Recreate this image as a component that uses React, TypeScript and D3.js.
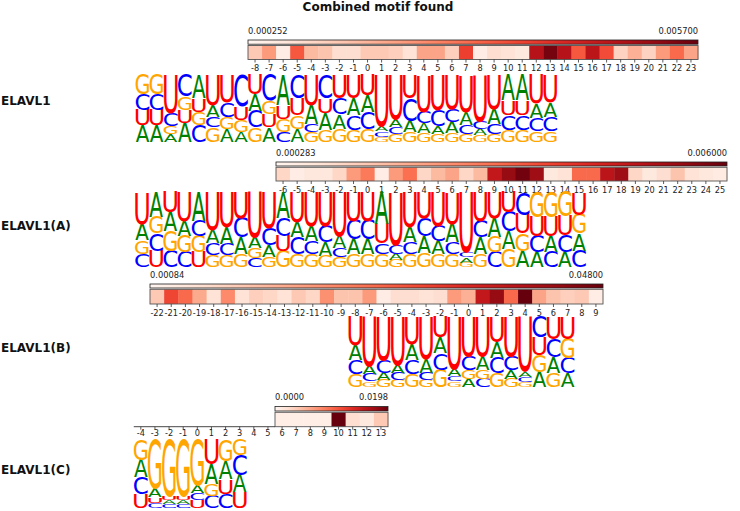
import * as d3 from 'd3';

const TITLE = 'Combined motif found';

const motifNames = ['ELAVL1', 'ELAVL1(A)', 'ELAVL1(B)', 'ELAVL1(C)'];
const colorbarMin = ['0.000252', '0.000283', '0.00084', '0.0000'];
const colorbarMax = ['0.005700', '0.006000', '0.04800', '0.0198'];

// positions covered by the heatmap, the axis ticks and the logo
const heatFirst = [-8, -6, -22, 6];
const heatLast = [23, 25, 9, 13];
const tickFirst = [-8, -6, -22, -4];
const logoFirst = [-16, -16, -8, -4];

// heatmap intensity (fraction of the colorbar range)
const heat1 = [0.2, 0.35, 0.05, 0.55, 0.25, 0.22, 0.12, 0.12, 0.2, 0.2, 0.18, 0.1, 0.32, 0.32, 0.18, 0.62,
  0.05, 0.12, 0.1, 0.07, 0.82, 0.97, 0.82, 0.55, 0.8, 0.58, 0.17, 0.28, 0.17, 0.35, 0.5, 0.32];
const heat2 = [0.15, 0.05, 0.08, 0.08, 0.15, 0.35, 0.45, 0.05, 0.35, 0.48, 0.15, 0.25, 0.32, 0.15, 0.25, 0.78,
  0.9, 0.98, 0.88, 0.07, 0.1, 0.5, 0.5, 0.8, 0.88, 0.15, 0.07, 0.12, 0.22, 0.1, 0.08, 0.06];
const heat3 = [0.2, 0.6, 0.5, 0.3, 0.1, 0.4, 0.1, 0.18, 0.15, 0.1, 0.2, 0.15, 0.38, 0.22, 0.22, 0.35,
  0.05, 0.12, 0.12, 0.1, 0.12, 0.35, 0.28, 0.78, 0.9, 0.5, 1.0, 0.32, 0.22, 0.18, 0.2, 0.05];
const heat4 = [0.04, 0.04, 0.04, 0.04, 1.0, 0.12, 0.07, 0.2];

// logo columns, letters stacked bottom -> top with probability in %
const logo1 = [
  'A25 U23 C24 G28', 'A25 U23 C24 G28', 'A12 G12 C20 U56', 'A28 U20 G20 C32', 'C25 G20 U20 A35',
  'G22 C16 A17 U45', 'A20 G18 C22 U40', 'A15 G18 U20 C47', 'G22 C25 A25 U28', 'A22 U20 G20 C38',
  'C15 G20 U20 A45', 'A20 G20 U25 C35', 'G15 C12 A28 U45', 'G18 A25 U22 C35', 'G20 A22 C23 U35',
  'G18 C22 A25 U35', 'G20 C25 A25 U30', 'G8 C8 A8 U76', 'G12 C10 A12 U66', 'G15 A17 C33 U35',
  'G13 A15 C17 U55', 'G12 A12 C24 U52', 'G13 A17 C20 U50', 'G12 C13 A20 U55', 'G10 A10 C12 U68',
  'G12 C15 A23 U50', 'G18 C22 U22 A38', 'G18 C22 U22 A38', 'G16 C20 A22 U42', 'G16 C22 A22 U40',
];
const logo2 = [
  'C18 G18 A22 U42', 'U22 C23 G22 A33', 'C22 G26 A25 U27', 'C20 G22 A20 U38', 'U20 G22 C20 A38',
  'G16 C16 A18 U50', 'G16 C15 A22 U47', 'G18 A22 C25 U35', 'C12 G13 A15 U60', 'G14 A16 C22 U48',
  'G22 U20 C24 A34', 'G18 C22 A20 U40', 'G17 C18 A20 U45', 'G15 A18 C22 U45', 'G13 C12 A17 U58',
  'G17 A20 C25 U38', 'G17 A20 C25 U38', 'G18 C14 U25 A43', 'G10 A8 C12 U70', 'G17 C16 A20 U47',
  'G19 A22 C24 U35', 'G17 A18 C20 U45', 'G18 C15 A25 U42', 'G6 A7 C7 U80', 'G18 A22 C22 U38',
  'C20 G20 A25 U35', 'G24 A24 C25 U27', 'A22 G23 U25 C30', 'A20 C22 U25 G33', 'C20 A22 U25 G33',
  'A20 C23 U25 G32', 'C22 A23 G25 U30',
];
const logo3 = [
  'G18 C20 A22 U40', 'G8 C10 A12 U70', 'G10 A10 C18 U62', 'G10 C10 A12 U68', 'G18 C20 A23 U39',
  'G10 C10 A20 U60', 'G25 C23 A23 U29', 'G8 C8 A10 U74', 'A12 G13 C20 U55', 'C12 G13 A20 U55',
  'G20 C22 A22 U36', 'G12 A12 C20 U56', 'G7 C8 A8 U77', 'A22 G24 U25 C29', 'G20 A23 C25 U32',
  'A20 C22 G27 U31',
];
const logo4 = [
  'U21 C24 A26 G29', 'C8 U8 A14 G70', 'C6 A6 U6 G82', 'C6 A6 U6 G82', 'U12 C10 A12 G66',
  'C18 G17 A29 U36', 'C21 U21 A27 G31', 'U23 A26 C29 G22',
];

const heatValues = [heat1, heat2, heat3, heat4];
const logos = [logo1, logo2, logo3, logo4];

// pixel layout of each row
const layout = [
  { x0: 248, x1: 698, cbLabelY: 34, cbY: 40, cellY: 45.5, cellY1: 59.5, tickLabelY: 71, logoTop: 75, logoBottom: 142, nameY: 105 },
  { x0: 276, x1: 727, cbLabelY: 155.5, cbY: 162, cellY: 167.3, cellY1: 181, tickLabelY: 193, logoTop: 192, logoBottom: 267, nameY: 229.5 },
  { x0: 150, x1: 603, cbLabelY: 278, cbY: 284, cellY: 289.3, cellY1: 304, tickLabelY: 316, logoTop: 317, logoBottom: 387, nameY: 351.5 },
  { x0: 275, x1: 388, cbLabelY: 399.5, cbY: 406.5, cellY: 412.3, cellY1: 426.7, tickLabelY: 436, logoTop: 440, logoBottom: 508, nameY: 474 },
];

const LETTER_COLOR: Record<string, string> = { A: '#008000', C: '#0000ff', G: '#ffa500', U: '#ff0000' };
// DejaVu Sans ink widths (em) and cap height (per 100px)
const INK_W: Record<string, number> = { A: 0.668, C: 0.584, G: 0.644, U: 0.558 };
const CAP_H = 72.9;
const FONT = 'DejaVu Sans';

function parseColumn(s: string) {
  return s.split(' ').map(t => ({ letter: t[0], p: +t.slice(1) }));
}

function Logo({ cols, first, x, step, top, bottom }: any) {
  const y = d3.scaleLinear().domain([0, 1]).range([bottom, top]);
  return (
    <g>
      {cols.map((s: string, i: number) => {
        const stack = parseColumn(s);
        const total = d3.sum(stack, d => d.p);
        const cx = x(first + i);
        let acc = 0;
        return stack.map((d, j) => {
          const yb = y(acc / total);
          acc += d.p;
          const yt = y(acc / total);
          const sx = (step * 0.95) / (INK_W[d.letter] * 100);
          const sy = (yb - yt) / CAP_H;
          return (
            <text key={`${i}-${j}`} transform={`translate(${cx},${yb}) scale(${sx},${sy})`}
              textAnchor="middle" fontSize={100} fontFamily={FONT} fill={LETTER_COLOR[d.letter]}>
              {d.letter}
            </text>
          );
        });
      })}
    </g>
  );
}

function MotifRow({ i }: { i: number }) {
  const L = layout[i];
  const first = heatFirst[i];
  const last = heatLast[i];
  const step = (L.x1 - L.x0) / (last - first + 1);
  const x = d3.scaleLinear().domain([first - 0.5, last + 0.5]).range([L.x0, L.x1]);
  const color = d3.scaleSequential(d3.interpolateReds).domain([0, 1]);
  const ticks = d3.range(tickFirst[i], last + 1);
  const gid = `cbar${i}`;
  const stops = d3.range(0, 11).map(k => k / 10);

  return (
    <g>
      <defs>
        <linearGradient id={gid}>
          {stops.map(t => <stop key={t} offset={`${t * 100}%`} stopColor={color(t)} />)}
        </linearGradient>
      </defs>
      <text x={L.x0} y={L.cbLabelY} fontFamily={FONT} fontSize={8.3} fill="#222">{colorbarMin[i]}</text>
      <text x={L.x1} y={L.cbLabelY} fontFamily={FONT} fontSize={8.3} fill="#222" textAnchor="end">{colorbarMax[i]}</text>
      <rect x={L.x0} y={L.cbY} width={L.x1 - L.x0} height={L.cellY - L.cbY - 1.3}
        fill={`url(#${gid})`} stroke="#222" strokeWidth={0.8} />

      {heatValues[i].map((v, k) => (
        <rect key={k} x={x(first + k - 0.5)} y={L.cellY} width={step + 0.4} height={L.cellY1 - L.cellY}
          fill={color(v)} />
      ))}
      <rect x={L.x0} y={L.cellY} width={L.x1 - L.x0} height={L.cellY1 - L.cellY}
        fill="none" stroke="#555" strokeWidth={0.9} />
      {tickFirst[i] < first && (
        <line x1={x(tickFirst[i] - 0.5)} x2={L.x0} y1={L.cellY1} y2={L.cellY1} stroke="#333" strokeWidth={0.9} />
      )}
      {ticks.map(t => (
        <g key={t}>
          <line x1={x(t)} x2={x(t)} y1={L.cellY1} y2={L.cellY1 + 3} stroke="#333" strokeWidth={0.8} />
          <text x={x(t)} y={L.tickLabelY} textAnchor="middle" fontFamily={FONT} fontSize={8.2} fill="#222">{t}</text>
        </g>
      ))}

      <Logo cols={logos[i]} first={logoFirst[i]} x={x} step={step} top={L.logoTop} bottom={L.logoBottom} />

      <text x={1} y={L.nameY} fontFamily={FONT} fontWeight="bold" fontSize={12} fill="#111">{motifNames[i]}</text>
    </g>
  );
}

export default function App() {
  return (
    <svg width={740} height={511} style={{ position: 'absolute', left: 0, top: 0, background: '#fff' }}>
      <rect width={740} height={511} fill="#fff" />
      <text x={378} y={11} textAnchor="middle" fontFamily={FONT} fontWeight="bold" fontSize={12} fill="#111">{TITLE}</text>
      {motifNames.map((_, i) => <MotifRow key={i} i={i} />)}
    </svg>
  );
}
